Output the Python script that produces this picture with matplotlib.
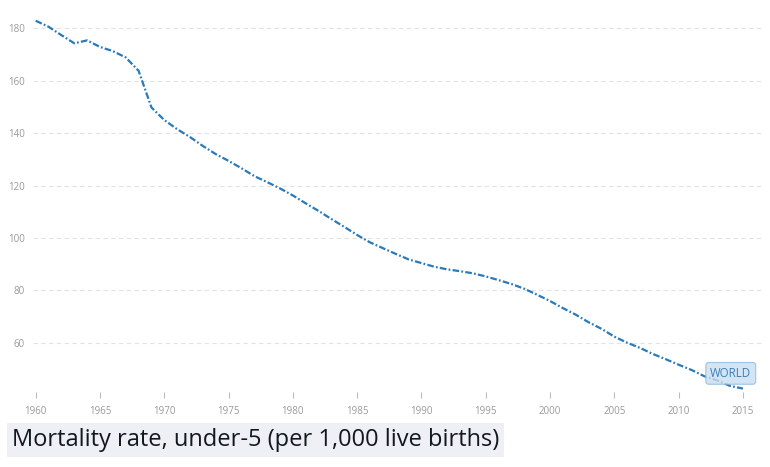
import numpy as np
import matplotlib.pyplot as plt

plt.rcParams['font.family'] = ['Open Sans', 'DejaVu Sans']

# under-5 mortality, world
years = list(range(1960, 2016))
rate = [182.9, 180.6, 177.4, 174.3, 175.4, 172.9, 171.3, 168.9, 163.8, 149.8,
        145.0, 141.5, 138.5, 135.1, 132.0, 129.4, 126.6, 123.6, 121.3, 118.9,
        116.2, 113.2, 110.3, 107.2, 104.2, 101.1, 98.3, 96.1, 93.9, 91.8,
        90.4, 89.0, 88.0, 87.3, 86.5, 85.3, 83.9, 82.4, 80.6, 78.3,
        75.9, 73.2, 70.7, 67.8, 65.3, 62.3, 60.0, 58.0, 55.7, 53.7,
        51.6, 49.6, 47.2, 45.6, 43.5, 42.5]
xticks = list(range(1960, 2016, 5))
yticks = [60, 80, 100, 120, 140, 160, 180]
title = 'Mortality rate, under-5 (per 1,000 live births)'
series_name = 'WORLD'

fig = plt.figure(figsize=(7.7, 4.67), dpi=100)
ax = fig.add_axes([33/770, 1-398/467, 729/770, 388/467])

ax.plot(years, rate, color='#2a7ab9', lw=1.6, ls=(0, (3.0, 1.0, 0.8, 1.0)))

ax.set_xlim(1959.79, 2016.48)
ax.set_ylim(38.9, 187.0)
ax.set_xticks(xticks)
ax.set_yticks(yticks)
ax.tick_params(axis='x', colors='#bbbbbb', labelcolor='#999999', labelsize=7,
               length=4, width=0.8, direction='in', pad=6)
ax.tick_params(axis='y', length=0, labelcolor='#999999', labelsize=7, pad=6)
ax.grid(axis='y', color='#e3e3e3', ls=(0, (4, 3)), lw=0.8)
for s in ax.spines.values():
    s.set_visible(False)

# series label near the end of the line
ax.text(2014.05, 48.3, series_name, ha='center', va='center', fontsize=8.3,
        color='#3a80ba',
        bbox=dict(boxstyle='round,pad=0.38,rounding_size=0.25', fc='#c9def0',
                  ec='#8bb8de', lw=0.8, alpha=0.8))

fig.text(12/770, 1-440/467, title, fontsize=17, color='#111820',
         ha='left', va='center',
         bbox=dict(boxstyle='square,pad=0.22', fc='#eff0f5', ec='none'))

fig.savefig('out.png', dpi=100)
